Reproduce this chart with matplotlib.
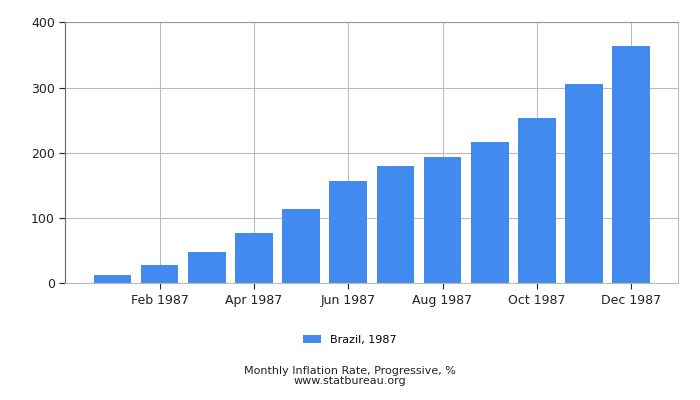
import matplotlib.pyplot as plt

# Datos
meses = ['Jan 1987', 'Feb 1987', 'Mar 1987', 'Apr 1987', 'May 1987', 'Jun 1987',
         'Jul 1987', 'Aug 1987', 'Sep 1987', 'Oct 1987', 'Nov 1987', 'Dec 1987']
valores = [12.7, 28, 48, 77, 114, 157, 180, 194, 217, 253, 306, 364]
serie = 'Brazil, 1987'
titulo = 'Monthly Inflation Rate, Progressive, %'
fuente = 'www.statbureau.org'

fig = plt.figure(figsize=(7, 4), dpi=100)
ax = fig.add_axes([0.0933, 0.2918, 0.8757, 0.6522])

x = list(range(len(meses)))
ax.bar(x, valores, width=0.8, color='#418bef', label=serie, zorder=2)

ax.set_xlim(-1, 12)
ax.set_ylim(0, 400)
ax.set_yticks([0, 100, 200, 300, 400])
ax.set_xticks(x[1::2])
ax.set_xticklabels(meses[1::2])
ax.tick_params(labelsize=9, colors='#222222', length=4)
ax.grid(True, color='#bbbbbb', linewidth=0.8, zorder=0)

for lado in ['top', 'right', 'bottom']:
    ax.spines[lado].set_color('#bbbbbb')
ax.spines['top'].set_color('#999999')
ax.spines['left'].set_color('#666666')

fig.legend(loc='center', bbox_to_anchor=(0.5, 0.15), frameon=False, fontsize=8,
           handlelength=1.6, handleheight=0.8)
fig.text(0.5, 0.072, titulo, ha='center', va='center', fontsize=8, color='#222222')
fig.text(0.5, 0.047, fuente, ha='center', va='center', fontsize=8, color='#222222')

fig.savefig('out.png', dpi=100)
